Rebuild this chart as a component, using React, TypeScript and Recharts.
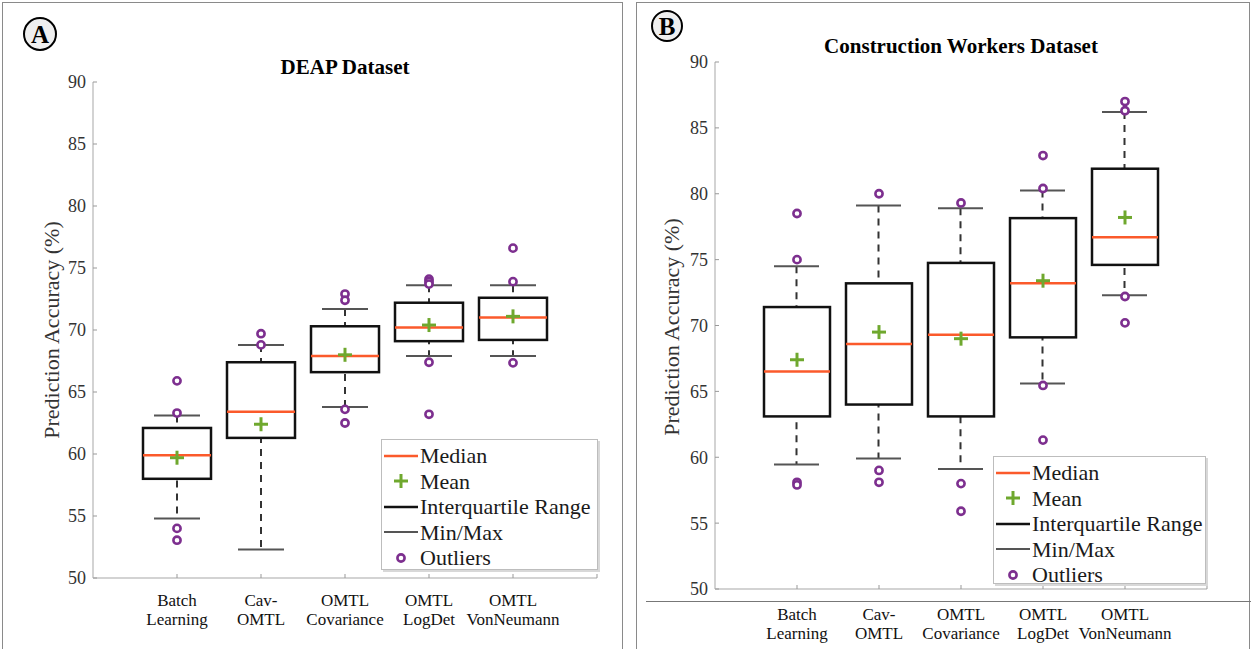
import React from "react";
import { ComposedChart, Bar, Scatter, XAxis, YAxis } from "recharts";

const SERIF = "'Liberation Serif', 'DejaVu Serif', 'Times New Roman', Times, serif";

const categories = [
  ["Batch", "Learning"],
  ["Cav-", "OMTL"],
  ["OMTL", "Covariance"],
  ["OMTL", "LogDet"],
  ["OMTL", "VonNeumann"],
];
const yTicks = [50, 55, 60, 65, 70, 75, 80, 85, 90];

// DEAP dataset
const deapMin = [54.8, 52.3, 63.8, 67.9, 67.9];
const deapQ1 = [58.0, 61.3, 66.6, 69.1, 69.2];
const deapMedian = [59.9, 63.4, 67.9, 70.2, 71.0];
const deapQ3 = [62.1, 67.4, 70.3, 72.2, 72.6];
const deapMax = [63.1, 68.8, 71.7, 73.6, 73.6];
const deapMean = [59.7, 62.4, 68.0, 70.4, 71.1];
const deapOutliers = [
  [65.9, 63.3, 54.0, 53.05],
  [69.7, 68.8],
  [72.9, 72.4, 63.6, 62.5],
  [74.1, 73.9, 73.7, 67.4, 63.2],
  [76.6, 73.9, 67.35],
];

// Construction workers dataset
const cwMin = [59.45, 59.9, 59.1, 65.6, 72.3];
const cwQ1 = [63.1, 64.0, 63.1, 69.1, 74.6];
const cwMedian = [66.5, 68.6, 69.3, 73.2, 76.7];
const cwQ3 = [71.4, 73.2, 74.75, 78.15, 81.9];
const cwMax = [74.5, 79.1, 78.9, 80.25, 86.2];
const cwMean = [67.4, 69.5, 69.0, 73.4, 78.2];
const cwOutliers = [
  [78.5, 75.0, 58.1, 57.9],
  [80.0, 59.0, 58.1],
  [79.3, 58.0, 55.9],
  [82.9, 80.4, 65.45, 61.3],
  [87.0, 86.3, 72.2, 70.2],
];

const MEDIAN_COLOR = "#fb5a2b";
const MEAN_COLOR = "#6fa82e";
const OUTLIER_COLOR = "#7d2f8f";

function buildRows(min: number[], q1: number[], med: number[], q3: number[], max: number[], mean: number[]) {
  return categories.map((_, i) => ({
    x: i + 1,
    whisk: [min[i], max[i]],
    box: [q1[i], q3[i]],
    med: med[i],
    mean: mean[i],
  }));
}

function buildOutliers(out: number[][]) {
  return out.flatMap((vals, i) => vals.map((v) => ({ x: i + 1, y: v })));
}

const WhiskerShape = (p: any) => {
  const top = Math.min(p.y, p.y + p.height);
  const bottom = Math.max(p.y, p.y + p.height);
  const cx = p.x + p.width / 2;
  return (
    <g>
      <line x1={cx} x2={cx} y1={top} y2={bottom} stroke="#333" strokeWidth={2} strokeDasharray="7 6" />
      <line x1={p.x} x2={p.x + p.width} y1={top} y2={top} stroke="#555" strokeWidth={2} />
      <line x1={p.x} x2={p.x + p.width} y1={bottom} y2={bottom} stroke="#555" strokeWidth={2} />
    </g>
  );
};

const BoxShape = (p: any) => {
  const top = Math.min(p.y, p.y + p.height);
  const h = Math.abs(p.height);
  return <rect x={p.x} y={top} width={p.width} height={h} fill="#fff" stroke="#111" strokeWidth={2.5} />;
};

const medianShape = (half: number) => (p: any) =>
  <line x1={p.cx - half} x2={p.cx + half} y1={p.cy} y2={p.cy} stroke={MEDIAN_COLOR} strokeWidth={2.5} />;

const PlusShape = (p: any) => (
  <g stroke={MEAN_COLOR} strokeWidth={3}>
    <line x1={p.cx - 7} x2={p.cx + 7} y1={p.cy} y2={p.cy} />
    <line x1={p.cx} x2={p.cx} y1={p.cy - 7} y2={p.cy + 7} />
  </g>
);

const CircleShape = (p: any) => (
  <circle cx={p.cx} cy={p.cy} r={3.6} fill="#fff" stroke={OUTLIER_COLOR} strokeWidth={2.6} />
);

// two-line category label under each tick
const categoryTick = (firstLine: number) => (p: any) => {
  const lines = categories[p.payload.value - 1];
  if (!lines) return <g />;
  return (
    <text x={p.x} y={p.y} textAnchor="middle" fontFamily={SERIF} fontSize={17} fill="#111">
      <tspan x={p.x} dy={firstLine}>{lines[0]}</tspan>
      <tspan x={p.x} dy={19}>{lines[1]}</tspan>
    </text>
  );
};

function LegendBox({ left, top, width, height }: { left: number; top: number; width: number; height: number }) {
  const rows: [string, React.ReactNode][] = [
    ["Median", <line x1={2} x2={36} y1={12} y2={12} stroke={MEDIAN_COLOR} strokeWidth={2.5} />],
    ["Mean", <PlusShape cx={19} cy={12} />],
    ["Interquartile Range", <line x1={2} x2={36} y1={12} y2={12} stroke="#111" strokeWidth={2.5} />],
    ["Min/Max", <line x1={2} x2={36} y1={12} y2={12} stroke="#555" strokeWidth={2.2} />],
    ["Outliers", <CircleShape cx={19} cy={12} />],
  ];
  return (
    <div
      style={{
        position: "absolute",
        left,
        top,
        width,
        height,
        boxSizing: "border-box",
        border: "1.5px solid #bdbdbd",
        boxShadow: "2px 2px 0 #d8d8d8",
        background: "#fff",
        paddingTop: 3,
        fontFamily: SERIF,
        fontSize: 22,
        color: "#1a1a1a",
      }}
    >
      {rows.map(([label, glyph]) => (
        <div key={label} style={{ display: "flex", alignItems: "center", height: 25.5 }}>
          <svg width={38} height={24} style={{ flex: "none" }}>{glyph}</svg>
          <span style={{ lineHeight: "25px", whiteSpace: "nowrap" }}>{label}</span>
        </div>
      ))}
    </div>
  );
}

type PanelProps = {
  left: number;
  width: number;
  margin: { top: number; right: number; bottom: number; left: number };
  rows: ReturnType<typeof buildRows>;
  outliers: { x: number; y: number }[];
  boxSize: number;
  capSize: number;
  labelOffset: number;
};

function BoxPanel({ left, width, margin, rows, outliers, boxSize, capSize, labelOffset }: PanelProps) {
  return (
    <div style={{ position: "absolute", left, top: 0 }}>
      <ComposedChart width={width} height={649} data={rows} margin={margin}>
        <XAxis
          xAxisId="main"
          type="number"
          dataKey="x"
          domain={[0, 6]}
          ticks={[1, 2, 3, 4, 5, 6]}
          interval={0}
          height={40}
          axisLine={{ stroke: "#c4c4c4", strokeWidth: 1.5 }}
          tickLine={{ stroke: "#999" }}
          tickSize={-4}
          tickMargin={4}
          tick={categoryTick(labelOffset)}
        />
        {/* second x axis so the boxes are laid out on their own, centred on the same positions */}
        <XAxis xAxisId="box" orientation="top" type="number" dataKey="x" domain={[0, 6]} height={0} hide />
        <YAxis
          type="number"
          domain={[50, 90]}
          ticks={yTicks}
          interval={0}
          width={50}
          axisLine={{ stroke: "#c4c4c4", strokeWidth: 1.5 }}
          tickLine={{ stroke: "#999" }}
          tickSize={-4}
          tickMargin={11}
          tick={{ fill: "#333", fontSize: 18, fontFamily: SERIF }}
        />
        <Bar xAxisId="main" dataKey="whisk" barSize={capSize} shape={WhiskerShape} isAnimationActive={false} />
        <Bar xAxisId="box" dataKey="box" barSize={boxSize} shape={BoxShape} isAnimationActive={false} />
        <Scatter xAxisId="main" dataKey="med" shape={medianShape(boxSize / 2)} isAnimationActive={false} />
        <Scatter xAxisId="main" dataKey="mean" shape={PlusShape} isAnimationActive={false} />
        <Scatter xAxisId="main" data={outliers} dataKey="y" shape={CircleShape} isAnimationActive={false} />
      </ComposedChart>
    </div>
  );
}

function PanelBadge({ x, y, r, letter }: { x: number; y: number; r: number; letter: string }) {
  return (
    <div
      style={{
        position: "absolute",
        left: x - r,
        top: y - r,
        width: r * 2,
        height: r * 2,
        boxSizing: "border-box",
        border: "2.5px solid #000",
        borderRadius: "50%",
        background: "#efefef",
        display: "flex",
        alignItems: "center",
        justifyContent: "center",
        fontFamily: SERIF,
        fontWeight: "bold",
        fontSize: 25,
        lineHeight: 1,
      }}
    >
      {letter}
    </div>
  );
}

const textStyle: React.CSSProperties = { position: "absolute", fontFamily: SERIF, whiteSpace: "nowrap" };

export default function App() {
  const deapRows = buildRows(deapMin, deapQ1, deapMedian, deapQ3, deapMax, deapMean);
  const cwRows = buildRows(cwMin, cwQ1, cwMedian, cwQ3, cwMax, cwMean);

  return (
    <div style={{ position: "absolute", left: 0, top: 0, width: 1251, height: 649, overflow: "hidden", background: "#fff" }}>
      {/* panel frames, open at the bottom */}
      <div style={{ position: "absolute", left: 2, top: 2, width: 621, height: 700, border: "1.5px solid #8a8a8a", boxSizing: "border-box" }} />
      <div style={{ position: "absolute", left: 636, top: 2, width: 614, height: 700, border: "1.5px solid #8a8a8a", boxSizing: "border-box" }} />

      <BoxPanel
        left={0}
        width={625}
        margin={{ top: 82, right: 28, bottom: 31, left: 43 }}
        rows={deapRows}
        outliers={buildOutliers(deapOutliers)}
        boxSize={68}
        capSize={46}
        labelOffset={28}
      />
      <BoxPanel
        left={630}
        width={621}
        margin={{ top: 62, right: 44, bottom: 20, left: 35 }}
        rows={cwRows}
        outliers={buildOutliers(cwOutliers)}
        boxSize={66}
        capSize={45}
        labelOffset={31}
      />

      <div style={{ position: "absolute", left: 646, top: 601, width: 605, height: 0, borderTop: "1.5px solid #777" }} />

      <div style={{ ...textStyle, left: 195, width: 300, top: 55, textAlign: "center", fontSize: 21, fontWeight: "bold" }}>DEAP Dataset</div>
      <div style={{ ...textStyle, left: 761, width: 400, top: 34, textAlign: "center", fontSize: 21, fontWeight: "bold" }}>
        Construction Workers Dataset
      </div>

      <div style={{ ...textStyle, left: 52, top: 330, fontSize: 22, color: "#333", transform: "translate(-50%, -50%) rotate(-90deg)" }}>
        Prediction Accuracy (%)
      </div>
      <div style={{ ...textStyle, left: 672, top: 327, fontSize: 22, color: "#333", transform: "translate(-50%, -50%) rotate(-90deg)" }}>
        Prediction Accuracy (%)
      </div>

      <LegendBox left={381} top={439} width={217} height={131} />
      <LegendBox left={993} top={456} width={213} height={128} />

      <PanelBadge x={40} y={34} r={17} letter="A" />
      <PanelBadge x={667} y={26} r={16} letter="B" />
    </div>
  );
}
